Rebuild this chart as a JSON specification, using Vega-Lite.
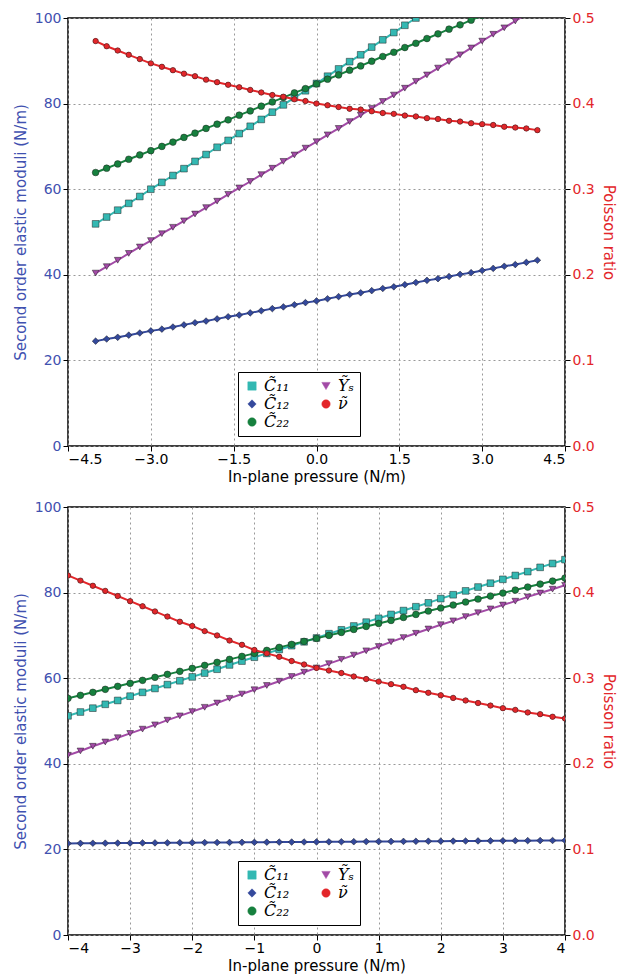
{
"$schema":"https://vega.github.io/schema/vega-lite/v6.json",
"background":"white",
"padding":{"left":12,"top":10,"right":0,"bottom":0},
"config":{"font":"DejaVu Sans","view":{"stroke":"black","strokeWidth":1.5},
 "axis":{"labelFontSize":14,"titleFontSize":15,"titleFontWeight":"normal","gridDash":[2,3],"gridColor":"#999","tickColor":"black","domain":false,"labelColor":"black"},
 "legend":{"labelFontSize":16,"labelFont":"DejaVu Serif","labelFontStyle":"italic","symbolStrokeWidth":0.5}},
"datasets":{
"top":[
{"x":-4.0,"c11":51.9,"c12":24.5,"c22":63.9,"ys":40.4,"nu":0.473},
{"x":-3.8,"c11":53.5,"c12":25.0,"c22":64.9,"ys":41.9,"nu":0.467},
{"x":-3.6,"c11":55.1,"c12":25.4,"c22":65.9,"ys":43.4,"nu":0.462},
{"x":-3.4,"c11":56.7,"c12":25.9,"c22":67.0,"ys":45.0,"nu":0.457},
{"x":-3.2,"c11":58.3,"c12":26.4,"c22":68.0,"ys":46.5,"nu":0.452},
{"x":-3.0,"c11":60.0,"c12":26.9,"c22":69.0,"ys":48.0,"nu":0.447},
{"x":-2.8,"c11":61.6,"c12":27.3,"c22":70.0,"ys":49.6,"nu":0.443},
{"x":-2.6,"c11":63.2,"c12":27.8,"c22":71.0,"ys":51.1,"nu":0.439},
{"x":-2.4,"c11":64.8,"c12":28.3,"c22":72.1,"ys":52.6,"nu":0.435},
{"x":-2.2,"c11":66.5,"c12":28.8,"c22":73.1,"ys":54.2,"nu":0.432},
{"x":-2.0,"c11":68.1,"c12":29.2,"c22":74.2,"ys":55.7,"nu":0.428},
{"x":-1.8,"c11":69.8,"c12":29.7,"c22":75.2,"ys":57.2,"nu":0.425},
{"x":-1.6,"c11":71.4,"c12":30.2,"c22":76.2,"ys":58.8,"nu":0.422},
{"x":-1.4,"c11":73.0,"c12":30.6,"c22":77.3,"ys":60.3,"nu":0.419},
{"x":-1.2,"c11":74.7,"c12":31.1,"c22":78.3,"ys":61.8,"nu":0.416},
{"x":-1.0,"c11":76.3,"c12":31.6,"c22":79.4,"ys":63.4,"nu":0.413},
{"x":-0.8,"c11":78.0,"c12":32.1,"c22":80.4,"ys":64.9,"nu":0.410},
{"x":-0.6,"c11":79.7,"c12":32.5,"c22":81.4,"ys":66.5,"nu":0.408},
{"x":-0.4,"c11":81.4,"c12":33.0,"c22":82.5,"ys":68.0,"nu":0.405},
{"x":-0.2,"c11":83.0,"c12":33.5,"c22":83.5,"ys":69.6,"nu":0.403},
{"x":0.0,"c11":84.7,"c12":33.9,"c22":84.6,"ys":71.1,"nu":0.400},
{"x":0.2,"c11":86.4,"c12":34.4,"c22":85.7,"ys":72.7,"nu":0.398},
{"x":0.4,"c11":88.1,"c12":34.9,"c22":86.7,"ys":74.2,"nu":0.396},
{"x":0.6,"c11":89.8,"c12":35.4,"c22":87.8,"ys":75.8,"nu":0.394},
{"x":0.8,"c11":91.4,"c12":35.8,"c22":88.8,"ys":77.3,"nu":0.393},
{"x":1.0,"c11":93.2,"c12":36.3,"c22":89.9,"ys":78.9,"nu":0.391},
{"x":1.2,"c11":94.9,"c12":36.8,"c22":91.0,"ys":80.5,"nu":0.389},
{"x":1.4,"c11":96.6,"c12":37.2,"c22":92.0,"ys":82.0,"nu":0.388},
{"x":1.6,"c11":98.3,"c12":37.7,"c22":93.1,"ys":83.6,"nu":0.386},
{"x":1.8,"c11":100.0,"c12":38.2,"c22":94.1,"ys":85.2,"nu":0.385},
{"x":2.0,"c11":101.7,"c12":38.7,"c22":95.2,"ys":86.7,"nu":0.383},
{"x":2.2,"c11":103.4,"c12":39.1,"c22":96.3,"ys":88.3,"nu":0.382},
{"x":2.4,"c11":105.1,"c12":39.6,"c22":97.4,"ys":89.8,"nu":0.380},
{"x":2.6,"c11":106.9,"c12":40.1,"c22":98.4,"ys":91.4,"nu":0.379},
{"x":2.8,"c11":108.6,"c12":40.5,"c22":99.5,"ys":93.0,"nu":0.377},
{"x":3.0,"c11":110.3,"c12":41.0,"c22":100.6,"ys":94.6,"nu":0.376},
{"x":3.2,"c11":112.0,"c12":41.5,"c22":101.7,"ys":96.2,"nu":0.375},
{"x":3.4,"c11":113.8,"c12":42.0,"c22":102.7,"ys":97.7,"nu":0.373},
{"x":3.6,"c11":115.6,"c12":42.4,"c22":103.8,"ys":99.3,"nu":0.372},
{"x":3.8,"c11":117.3,"c12":42.9,"c22":104.9,"ys":100.9,"nu":0.371},
{"x":4.0,"c11":119.1,"c12":43.4,"c22":106.0,"ys":102.5,"nu":0.369}
],
"bot":[
{"x":-4.0,"c11":51.2,"c12":21.40,"c22":55.3,"ys":42.0,"nu":0.420},
{"x":-3.8,"c11":52.1,"c12":21.42,"c22":56.0,"ys":43.0,"nu":0.414},
{"x":-3.6,"c11":53.0,"c12":21.44,"c22":56.7,"ys":44.1,"nu":0.408},
{"x":-3.4,"c11":53.9,"c12":21.45,"c22":57.4,"ys":45.1,"nu":0.402},
{"x":-3.2,"c11":54.8,"c12":21.47,"c22":58.1,"ys":46.1,"nu":0.396},
{"x":-3.0,"c11":55.8,"c12":21.49,"c22":58.8,"ys":47.1,"nu":0.390},
{"x":-2.8,"c11":56.7,"c12":21.51,"c22":59.5,"ys":48.1,"nu":0.384},
{"x":-2.6,"c11":57.6,"c12":21.52,"c22":60.2,"ys":49.1,"nu":0.378},
{"x":-2.4,"c11":58.5,"c12":21.54,"c22":60.9,"ys":50.2,"nu":0.372},
{"x":-2.2,"c11":59.4,"c12":21.56,"c22":61.6,"ys":51.2,"nu":0.366},
{"x":-2.0,"c11":60.3,"c12":21.58,"c22":62.3,"ys":52.2,"nu":0.361},
{"x":-1.8,"c11":61.2,"c12":21.59,"c22":63.0,"ys":53.2,"nu":0.355},
{"x":-1.6,"c11":62.1,"c12":21.61,"c22":63.7,"ys":54.2,"nu":0.350},
{"x":-1.4,"c11":63.1,"c12":21.63,"c22":64.4,"ys":55.3,"nu":0.344},
{"x":-1.2,"c11":64.0,"c12":21.65,"c22":65.1,"ys":56.3,"nu":0.339},
{"x":-1.0,"c11":64.9,"c12":21.66,"c22":65.8,"ys":57.3,"nu":0.333},
{"x":-0.8,"c11":65.8,"c12":21.68,"c22":66.5,"ys":58.3,"nu":0.329},
{"x":-0.6,"c11":66.7,"c12":21.70,"c22":67.2,"ys":59.3,"nu":0.325},
{"x":-0.4,"c11":67.6,"c12":21.72,"c22":67.9,"ys":60.4,"nu":0.320},
{"x":-0.2,"c11":68.5,"c12":21.73,"c22":68.6,"ys":61.4,"nu":0.316},
{"x":0.0,"c11":69.4,"c12":21.75,"c22":69.3,"ys":62.4,"nu":0.312},
{"x":0.2,"c11":70.4,"c12":21.77,"c22":70.0,"ys":63.4,"nu":0.309},
{"x":0.4,"c11":71.3,"c12":21.79,"c22":70.7,"ys":64.4,"nu":0.306},
{"x":0.6,"c11":72.2,"c12":21.80,"c22":71.4,"ys":65.4,"nu":0.302},
{"x":0.8,"c11":73.1,"c12":21.82,"c22":72.1,"ys":66.4,"nu":0.299},
{"x":1.0,"c11":74.0,"c12":21.84,"c22":72.8,"ys":67.4,"nu":0.296},
{"x":1.2,"c11":74.9,"c12":21.86,"c22":73.5,"ys":68.5,"nu":0.293},
{"x":1.4,"c11":75.8,"c12":21.87,"c22":74.2,"ys":69.5,"nu":0.290},
{"x":1.6,"c11":76.7,"c12":21.89,"c22":74.9,"ys":70.5,"nu":0.286},
{"x":1.8,"c11":77.6,"c12":21.91,"c22":75.7,"ys":71.5,"nu":0.283},
{"x":2.0,"c11":78.6,"c12":21.93,"c22":76.4,"ys":72.5,"nu":0.280},
{"x":2.2,"c11":79.5,"c12":21.94,"c22":77.1,"ys":73.4,"nu":0.277},
{"x":2.4,"c11":80.4,"c12":21.96,"c22":77.8,"ys":74.4,"nu":0.274},
{"x":2.6,"c11":81.3,"c12":21.98,"c22":78.5,"ys":75.3,"nu":0.271},
{"x":2.8,"c11":82.2,"c12":22.00,"c22":79.2,"ys":76.2,"nu":0.268},
{"x":3.0,"c11":83.1,"c12":22.01,"c22":79.9,"ys":77.1,"nu":0.265},
{"x":3.2,"c11":84.0,"c12":22.03,"c22":80.6,"ys":78.0,"nu":0.263},
{"x":3.4,"c11":84.9,"c12":22.05,"c22":81.3,"ys":79.0,"nu":0.260},
{"x":3.6,"c11":85.9,"c12":22.07,"c22":82.0,"ys":79.9,"nu":0.258},
{"x":3.8,"c11":86.8,"c12":22.08,"c22":82.7,"ys":80.8,"nu":0.255},
{"x":4.0,"c11":87.7,"c12":22.10,"c22":83.4,"ys":81.7,"nu":0.253}
]},
"vconcat":[
{"width":497,"height":428,"data":{"name":"top"},
 "encoding":{"x":{"field":"x","type":"quantitative","scale":{"domain":[-4.5,4.5],"nice":false},"axis":{"values":[-4.5,-3,-1.5,0,1.5,3,4.5],"labelExpr":"replace(format(datum.value,'.1f'),'-','−')","title":"In-plane pressure (N/m)","titlePadding":3,"labelPadding":1}}},
 "layer":[
  {"transform":[{"fold":["c11","c12","c22","ys"],"as":["s","v"]}],
   "encoding":{"y":{"field":"v","type":"quantitative","scale":{"domain":[0,100],"nice":false},"axis":{"values":[0,20,40,60,80,100],"title":"Second order elastic moduli (N/m)","titleColor":"#3f51b0","labelColor":"#3f51b0","titlePadding":6}},
    "color":{"field":"s","type":"nominal","scale":{"domain":["c11","c12","c22","ys","nu"],"range":["#33b8b2","#34499c","#16803e","#a24aa6","#e3262a"]},"legend":{"title":null,"orient":"none","legendX":170,"legendY":354,"columns":2,"columnPadding":28,"rowPadding":2,"padding":6,"strokeColor":"black","fillColor":"white","symbolSize":70,"labelExpr":"({'c11':'C̃₁₁','c12':'C̃₁₂','c22':'C̃₂₂','ys':'Ỹₛ','nu':'ν̃'})[datum.label]"}},
    "shape":{"field":"s","type":"nominal","scale":{"domain":["c11","c12","c22","ys","nu"],"range":["square","diamond","circle","triangle-down","circle"]},"legend":{"title":null,"orient":"none","legendX":170,"legendY":354,"columns":2,"labelExpr":"({'c11':'C̃₁₁','c12':'C̃₁₂','c22':'C̃₂₂','ys':'Ỹₛ','nu':'ν̃'})[datum.label]"}}},
   "layer":[{"mark":{"type":"line","clip":true,"strokeWidth":2}},{"mark":{"type":"point","clip":true,"filled":true,"opacity":1,"size":45,"stroke":"#222","strokeWidth":0.5}}]},
  {"transform":[{"fold":["nu"],"as":["s","v"]}],
   "encoding":{"y":{"field":"v","type":"quantitative","scale":{"domain":[0,0.5],"nice":false},"axis":{"orient":"right","values":[0,0.1,0.2,0.3,0.4,0.5],"format":".1f","grid":false,"title":"Poisson ratio","titleColor":"#e3262a","labelColor":"#e3262a","titlePadding":6}},
    "color":{"field":"s","type":"nominal"},"shape":{"field":"s","type":"nominal"}},
   "layer":[{"mark":{"type":"line","clip":true,"strokeWidth":2}},{"mark":{"type":"point","clip":true,"filled":true,"opacity":1,"size":30,"stroke":"#222","strokeWidth":0.5}}]}
 ],
 "resolve":{"scale":{"y":"independent"}}},
{"width":497,"height":428,"data":{"name":"bot"},
 "encoding":{"x":{"field":"x","type":"quantitative","scale":{"domain":[-4,4],"nice":false},"axis":{"values":[-4,-3,-2,-1,0,1,2,3,4],"labelExpr":"replace(format(datum.value,'d'),'-','−')","title":"In-plane pressure (N/m)","titlePadding":3,"labelPadding":1}}},
 "layer":[
  {"transform":[{"fold":["c11","c12","c22","ys"],"as":["s","v"]}],
   "encoding":{"y":{"field":"v","type":"quantitative","scale":{"domain":[0,100],"nice":false},"axis":{"values":[0,20,40,60,80,100],"title":"Second order elastic moduli (N/m)","titleColor":"#3f51b0","labelColor":"#3f51b0","titlePadding":6}},
    "color":{"field":"s","type":"nominal","scale":{"domain":["c11","c12","c22","ys","nu"],"range":["#33b8b2","#34499c","#16803e","#a24aa6","#e3262a"]},"legend":{"title":null,"orient":"none","legendX":170,"legendY":354,"columns":2,"columnPadding":28,"rowPadding":2,"padding":6,"strokeColor":"black","fillColor":"white","symbolSize":70,"labelExpr":"({'c11':'C̃₁₁','c12':'C̃₁₂','c22':'C̃₂₂','ys':'Ỹₛ','nu':'ν̃'})[datum.label]"}},
    "shape":{"field":"s","type":"nominal","scale":{"domain":["c11","c12","c22","ys","nu"],"range":["square","diamond","circle","triangle-down","circle"]},"legend":{"title":null,"orient":"none","legendX":170,"legendY":354,"columns":2,"labelExpr":"({'c11':'C̃₁₁','c12':'C̃₁₂','c22':'C̃₂₂','ys':'Ỹₛ','nu':'ν̃'})[datum.label]"}}},
   "layer":[{"mark":{"type":"line","clip":true,"strokeWidth":2}},{"mark":{"type":"point","clip":true,"filled":true,"opacity":1,"size":45,"stroke":"#222","strokeWidth":0.5}}]},
  {"transform":[{"fold":["nu"],"as":["s","v"]}],
   "encoding":{"y":{"field":"v","type":"quantitative","scale":{"domain":[0,0.5],"nice":false},"axis":{"orient":"right","values":[0,0.1,0.2,0.3,0.4,0.5],"format":".1f","grid":false,"title":"Poisson ratio","titleColor":"#e3262a","labelColor":"#e3262a","titlePadding":6}},
    "color":{"field":"s","type":"nominal"},"shape":{"field":"s","type":"nominal"}},
   "layer":[{"mark":{"type":"line","clip":true,"strokeWidth":2}},{"mark":{"type":"point","clip":true,"filled":true,"opacity":1,"size":30,"stroke":"#222","strokeWidth":0.5}}]}
 ],
 "resolve":{"scale":{"y":"independent"}}}
],
"spacing":14,
"resolve":{"scale":{"color":"independent","shape":"independent"}}
}
